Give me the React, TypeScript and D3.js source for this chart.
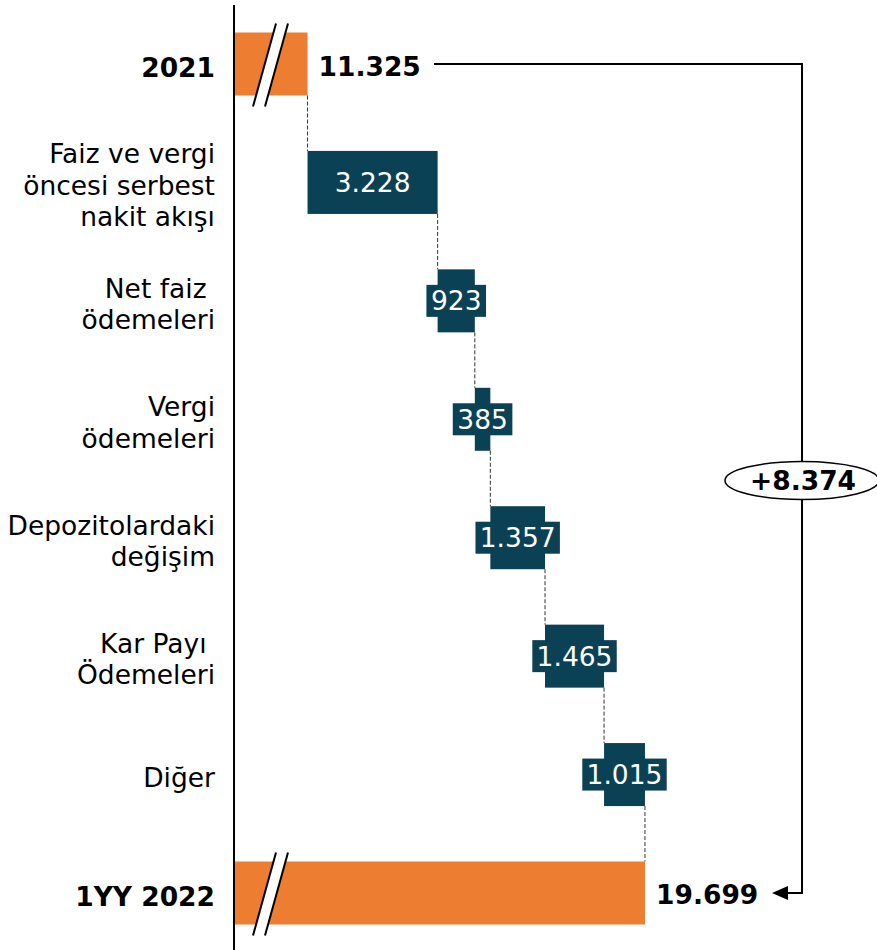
import React from "react";
import * as d3 from "d3";

const categoryLines: string[][] = [
  ["2021"],
  ["Faiz ve vergi", "öncesi serbest", "nakit akışı"],
  ["Net faiz ", "ödemeleri"],
  ["Vergi", "ödemeleri"],
  ["Depozitolardaki", "değişim"],
  ["Kar Payı ", "Ödemeleri"],
  ["Diğer"],
  ["1YY 2022"],
];
const startValue = 11325;
const deltas = [3228, 923, 385, 1357, 1465, 1015];
const endValue = 19699;
const changeLabel = "+8.374";

const W = 877;
const H = 950;
const ORANGE = "#ED7D31";
const TEAL = "#0B4155";
const FONT = "'DejaVu Sans', Verdana, sans-serif";
const FS = 26.5;

const trLocale = d3.formatLocale({ decimal: ",", thousands: ".", grouping: [3], currency: ["", ""] });
const fmt = trLocale.format(",");

export default function App() {
  const ids = categoryLines.map((_, i) => String(i));
  const y = d3.scalePoint<string>().domain(ids).range([64, 893]);
  const x = d3.scaleLinear().domain([9500, endValue]).range([234, 645]);
  const barH = 63;
  const axisX = x(9500);

  const steps: { i: number; from: number; to: number; v: number }[] = [];
  let cum = startValue;
  deltas.forEach((v, k) => {
    steps.push({ i: k + 1, from: cum, to: cum + v, v });
    cum += v;
  });

  const charW = (s: string) => {
    let w = 0;
    for (const c of s) w += c === "." ? 0.318 : 0.636;
    return w * 26;
  };

  const breakMark = (cy: number, key: string) => {
    const top = cy - barH / 2 - 9;
    const bot = cy + barH / 2 + 11;
    const x1t = 276, x1b = 253, x2t = 288, x2b = 265;
    return (
      <g key={key}>
        <polygon points={`${x1t},${top} ${x2t},${top} ${x2b},${bot} ${x1b},${bot}`} fill="#fff" />
        <line x1={x1t} y1={top} x2={x1b} y2={bot} stroke="#000" strokeWidth={2} />
        <line x1={x2t} y1={top} x2={x2b} y2={bot} stroke="#000" strokeWidth={2} />
      </g>
    );
  };

  const firstY = y("0")!;
  const lastY = y(String(categoryLines.length - 1))!;
  const bracketX = 802;

  const connectors: { x: number; y1: number; y2: number }[] = [];
  connectors.push({ x: x(startValue), y1: firstY + barH / 2, y2: y("1")! - barH / 2 });
  steps.forEach((s) => {
    const nextY = y(String(s.i + 1))!;
    connectors.push({ x: x(s.to), y1: y(String(s.i))! + barH / 2, y2: nextY - barH / 2 });
  });

  return (
    <svg width={W} height={H} style={{ position: "absolute", left: 0, top: 0 }} fontFamily={FONT}>
      <rect width={W} height={H} fill="#fff" />
      {connectors.map((c, k) => (
        <line key={k} x1={c.x} x2={c.x} y1={c.y1} y2={c.y2} stroke="#333" strokeWidth={1} strokeDasharray="4,2" />
      ))}
      <rect x={axisX} y={firstY - barH / 2} width={x(startValue) - axisX} height={barH} fill={ORANGE} />
      {breakMark(firstY, "b1")}
      <rect x={axisX} y={lastY - barH / 2} width={x(endValue) - axisX} height={barH} fill={ORANGE} />
      {breakMark(lastY, "b2")}
      {steps.map((s) => {
        const cy = y(String(s.i))!;
        const x0 = x(s.from);
        const x1 = x(s.to);
        const cx = (x0 + x1) / 2;
        const label = fmt(s.v);
        const tw = charW(label) + 10;
        return (
          <g key={s.i}>
            <rect x={x0} y={cy - barH / 2} width={x1 - x0} height={barH} fill={TEAL} />
            <rect x={cx - tw / 2} y={cy - 16} width={tw} height={32} fill={TEAL} />
            <text x={cx} y={cy} dy="0.36em" textAnchor="middle" fill="#fff" fontSize={FS}>
              {label}
            </text>
          </g>
        );
      })}
      <line x1={axisX} x2={axisX} y1={5} y2={H} stroke="#000" strokeWidth={2} />
      {categoryLines.map((lines, i) => {
        const cy = y(String(i))! + 3;
        const bold = i === 0 || i === categoryLines.length - 1;
        return (
          <text key={i} x={215} textAnchor="end" fontSize={FS} fontWeight={bold ? "bold" : "normal"} fill="#000" style={{ whiteSpace: "pre" }}>
            {lines.map((ln, j) => (
              <tspan key={j} x={215} y={cy + (j - (lines.length - 1) / 2) * 31.5} dy="0.36em">
                {ln}
              </tspan>
            ))}
          </text>
        );
      })}
      <text x={x(startValue) + 11} y={firstY + 2} dy="0.36em" fontSize={FS} fontWeight="bold">
        {fmt(startValue)}
      </text>
      <text x={x(endValue) + 11} y={lastY + 1} dy="0.36em" fontSize={FS} fontWeight="bold">
        {fmt(endValue)}
      </text>
      <path d={`M434,${firstY} H${bracketX} V${lastY} H786`} fill="none" stroke="#000" strokeWidth={2} />
      <polygon points={`772,${lastY} 788,${lastY - 7} 788,${lastY + 7}`} fill="#000" />
      <ellipse cx={bracketX} cy={(firstY + lastY) / 2 + 2} rx={77} ry={19} fill="#fff" stroke="#000" strokeWidth={1.5} />
      <text x={bracketX + 1} y={(firstY + lastY) / 2 + 2} dy="0.36em" textAnchor="middle" fontSize={FS} fontWeight="bold">
        {changeLabel}
      </text>
    </svg>
  );
}
